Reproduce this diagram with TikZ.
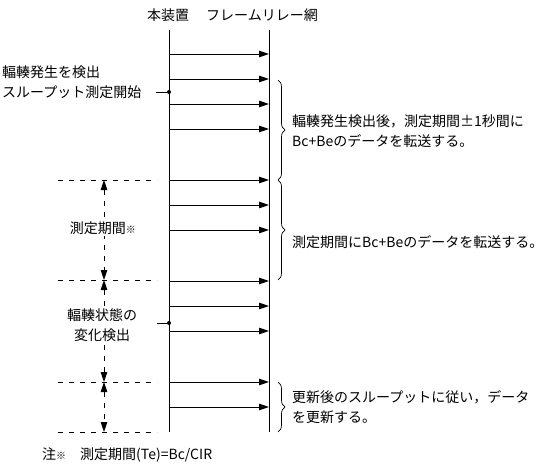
\documentclass[tikz,border=0pt]{standalone}
\usepackage{fontspec}
\setmainfont{Noto Sans CJK JP}
\usetikzlibrary{arrows.meta,decorations.pathreplacing}
\tikzset{
  base/.style={draw=black, line width=0.9pt},
  msg/.style={draw=black, line width=0.9pt, -{Triangle[length=10pt,width=6.5pt]}},
  help/.style={draw=black, line width=0.9pt, dash pattern=on 5pt off 6pt},
  span/.style={help, {Triangle[length=10pt,width=6.5pt]}-{Triangle[length=10pt,width=6.5pt]}},
  dot/.style={circle, fill=black, inner sep=0pt, minimum size=4pt},
  lab/.style={text=black, font=\fontsize{14}{20}\selectfont, inner sep=0pt},
  brc/.style={draw=black, line width=0.7pt, decorate, decoration={brace, amplitude=7pt}}
}
\newcommand{\kome}{{\fontsize{10}{10}\selectfont ※}}

\begin{document}
\begin{tikzpicture}[x=1pt,y=-1pt]
  \useasboundingbox[fill=white] (0,0) rectangle (550,471);
  % life lines
  \coordinate (devtop) at (169,30);
  \coordinate (devbot) at (169,432);
  \coordinate (nettop) at (269,30);
  \coordinate (netbot) at (269,432);
  \draw[base] (devtop) -- (devbot);
  \draw[base] (nettop) -- (netbot);
  \node[lab] (dev) at (168,15) {本装置};
  \node[lab] (net) at (262,15) {フレームリレー網};
  % frames
  \foreach \y [count=\i] in {54,79,104,129,180,205,230,281,306,331,382,407} {
    \coordinate (s\i) at (169,\y);
    \coordinate (n\i) at (269,\y);
    \draw[msg] (s\i) -- (n\i);
  }
  % events
  \node[dot] (d1) at (169,92) {};
  \coordinate (d1w) at (156,92);
  \draw[base] (d1w) -- (d1);
  \node[dot] (d2) at (169,323) {};
  \coordinate (d2w) at (157,323);
  \draw[base] (d2w) -- (d2);
  \node[lab, anchor=west, align=left] (start) at (2,82)
    {輻輳発生を検出\\スループット測定開始};
  % periods
  \foreach \y [count=\i] in {180,280,382,432} {
    \coordinate (ga\i) at (58,\y);
    \coordinate (gb\i) at (157,\y);
    \coordinate (m\i) at (104,\y);
    \draw[help] (ga\i) -- (gb\i);
  }
  \draw[span] (m1) -- (m2);
  \draw[span] (m2) -- (m3);
  \draw[span] (m3) -- (m4);
  \node[lab, fill=white, inner sep=2pt] (te) at (103,228) {測定期間\kome};
  \node[lab, fill=white, inner sep=2pt, align=center] (change) at (102,325)
    {輻輳状態の\\変化検出};
  % braces
  \coordinate (b1) at (278,80);
  \coordinate (b2) at (278,180);
  \coordinate (b3) at (278,280);
  \coordinate (b4) at (278,382);
  \coordinate (b5) at (278,432);
  \draw[brc] (b1) -- (b2);
  \draw[brc] (b2) -- (b3);
  \draw[brc] (b4) -- (b5);
  \node[lab, anchor=west, align=left] (t1) at (292,131)
    {輻輳発生検出後，測定期間±1秒間に\\Bc+Beのデータを転送する。};
  \node[lab, anchor=west] (t2) at (292,242) {測定期間にBc+Beのデータを転送する。};
  \node[lab, anchor=west, align=left] (t3) at (292,407)
    {更新後のスループットに従い，データ\\を更新する。};
  \node[lab, anchor=west] (note) at (42,455) {注\kome　測定期間(Te)=Bc/CIR};
\end{tikzpicture}
\end{document}
